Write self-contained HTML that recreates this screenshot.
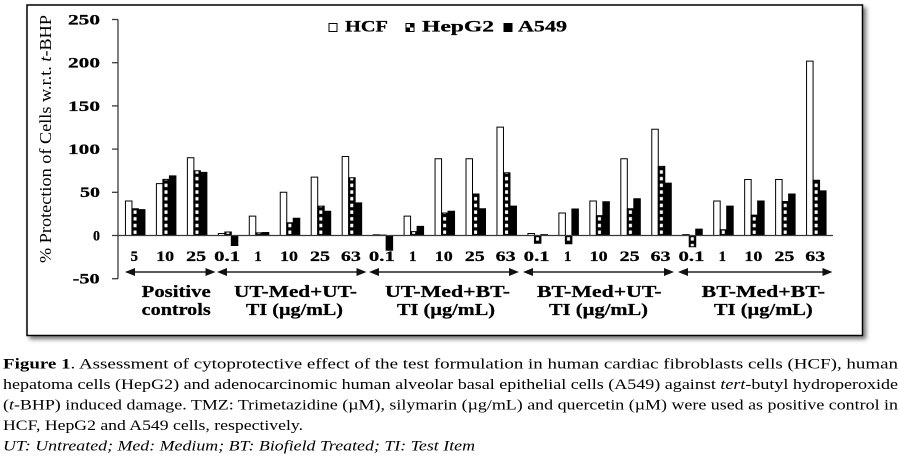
<!DOCTYPE html>
<html>
<head>
<meta charset="utf-8">
<style>
  html, body { margin: 0; padding: 0; background: #fff; }
  body { width: 899px; height: 457px; overflow: hidden; }
  svg { display: block; }
  text { font-family: "Liberation Serif", "DejaVu Serif", serif; }
</style>
</head>
<body>
<svg width="899" height="457" viewBox="0 0 899 457" xmlns="http://www.w3.org/2000/svg">
  <defs>
    <filter id="sh" x="-5%" y="-5%" width="112%" height="115%">
      <feDropShadow dx="3" dy="3" stdDeviation="2" flood-color="#555" flood-opacity="0.8"/>
    </filter>
    <pattern id="hp" patternUnits="userSpaceOnUse" x="-3.25" y="0" width="6.5" height="7.75">
      <rect x="0" y="0" width="6.5" height="7.75" fill="#000"/>
      <rect x="1.6" y="1.8" width="3" height="4" fill="#fff"/>
    </pattern>
    <pattern id="lp" patternUnits="userSpaceOnUse" x="406" y="23.5" width="8" height="8">
      <rect x="0" y="0" width="8" height="8" fill="#fff"/>
      <rect x="0" y="4" width="4" height="4" fill="#000"/>
      <rect x="4" y="0" width="4" height="4" fill="#000"/>
    </pattern>
  </defs>

  <rect x="0" y="0" width="899" height="457" fill="#fff"/>

  <!-- chart box -->
  <rect x="27" y="5" width="835.5" height="330.5" fill="#fff" stroke="#000" stroke-width="1.5" filter="url(#sh)"/>

  <!-- legend -->
  <g font-family="'Liberation Serif', serif" font-weight="bold" font-size="16" stroke="#000" stroke-width="0.25">
    <rect x="329" y="23.5" width="8" height="8" fill="#fff" stroke="#000" stroke-width="1"/>
    <text x="345" y="31.5" textLength="43" lengthAdjust="spacingAndGlyphs">HCF</text>
    <rect x="406" y="23.5" width="8" height="8" fill="url(#lp)" stroke="#000" stroke-width="1"/>
    <text x="422" y="31.5" textLength="72" lengthAdjust="spacingAndGlyphs">HepG2</text>
    <rect x="504" y="23.5" width="8" height="8" fill="#000" stroke="#000" stroke-width="1"/>
    <text x="518" y="31.5" textLength="49" lengthAdjust="spacingAndGlyphs">A549</text>
  </g>

  <!-- y axis label -->
  <text font-family="'Liberation Serif', serif" font-size="17" transform="translate(51,263) rotate(-90)" textLength="248" lengthAdjust="spacingAndGlyphs">% Protection of Cells w.r.t. <tspan font-style="italic">t</tspan>-BHP</text>

  <!-- y axis -->
  <g stroke="#3a3a3a" stroke-width="1.3">
    <line x1="118" y1="19.5" x2="118" y2="278.7"/>
    <line x1="112" y1="19.5" x2="118" y2="19.5"/>
    <line x1="112" y1="62.7" x2="118" y2="62.7"/>
    <line x1="112" y1="105.9" x2="118" y2="105.9"/>
    <line x1="112" y1="149.1" x2="118" y2="149.1"/>
    <line x1="112" y1="192.3" x2="118" y2="192.3"/>
    <line x1="112" y1="235.5" x2="118" y2="235.5"/>
    <line x1="112" y1="278.7" x2="118" y2="278.7"/>
  </g>
  <g font-family="'Liberation Serif', serif" font-weight="bold" font-size="15" stroke="#000" stroke-width="0.25">
    <text x="68" y="24.4" textLength="32" lengthAdjust="spacingAndGlyphs">250</text>
    <text x="68" y="67.6" textLength="32" lengthAdjust="spacingAndGlyphs">200</text>
    <text x="68" y="110.8" textLength="32" lengthAdjust="spacingAndGlyphs">150</text>
    <text x="68" y="154" textLength="32" lengthAdjust="spacingAndGlyphs">100</text>
    <text x="80" y="197.2" textLength="20" lengthAdjust="spacingAndGlyphs">50</text>
    <text x="93" y="240.4" textLength="7" lengthAdjust="spacingAndGlyphs">0</text>
    <text x="72.7" y="283.6" textLength="27" lengthAdjust="spacingAndGlyphs">-50</text>
  </g>

  <!-- bars -->
  <g transform="translate(0,235.5) scale(1,-0.864)" stroke="#000" stroke-width="1">
    <g transform="translate(135.2,0)">
      <rect x="-9.75" y="0" width="6.5" height="40" fill="#fff" vector-effect="non-scaling-stroke"/>
      <rect x="-3.25" y="0" width="6.5" height="31" fill="url(#hp)" vector-effect="non-scaling-stroke"/>
      <rect x="3.25" y="0" width="6.5" height="30" fill="#000" vector-effect="non-scaling-stroke"/>
    </g>
    <g transform="translate(166.16,0)">
      <rect x="-9.75" y="0" width="6.5" height="60" fill="#fff" vector-effect="non-scaling-stroke"/>
      <rect x="-3.25" y="0" width="6.5" height="65" fill="url(#hp)" vector-effect="non-scaling-stroke"/>
      <rect x="3.25" y="0" width="6.5" height="69" fill="#000" vector-effect="non-scaling-stroke"/>
    </g>
    <g transform="translate(197.12,0)">
      <rect x="-9.75" y="0" width="6.5" height="90" fill="#fff" vector-effect="non-scaling-stroke"/>
      <rect x="-3.25" y="0" width="6.5" height="75" fill="url(#hp)" vector-effect="non-scaling-stroke"/>
      <rect x="3.25" y="0" width="6.5" height="73" fill="#000" vector-effect="non-scaling-stroke"/>
    </g>
    <g transform="translate(228.08,0)">
      <rect x="-9.75" y="0" width="6.5" height="2.3" fill="#fff" vector-effect="non-scaling-stroke"/>
      <rect x="-3.25" y="0" width="6.5" height="4" fill="url(#hp)" vector-effect="non-scaling-stroke"/>
      <rect x="3.25" y="-11.6" width="6.5" height="11.6" fill="#000" vector-effect="non-scaling-stroke"/>
    </g>
    <g transform="translate(259.04,0)">
      <rect x="-9.75" y="0" width="6.5" height="22.4" fill="#fff" vector-effect="non-scaling-stroke"/>
      <rect x="-3.25" y="0" width="6.5" height="3" fill="url(#hp)" vector-effect="non-scaling-stroke"/>
      <rect x="3.25" y="0" width="6.5" height="3.5" fill="#000" vector-effect="non-scaling-stroke"/>
    </g>
    <g transform="translate(290,0)">
      <rect x="-9.75" y="0" width="6.5" height="50" fill="#fff" vector-effect="non-scaling-stroke"/>
      <rect x="-3.25" y="0" width="6.5" height="14.7" fill="url(#hp)" vector-effect="non-scaling-stroke"/>
      <rect x="3.25" y="0" width="6.5" height="20" fill="#000" vector-effect="non-scaling-stroke"/>
    </g>
    <g transform="translate(320.96,0)">
      <rect x="-9.75" y="0" width="6.5" height="67.6" fill="#fff" vector-effect="non-scaling-stroke"/>
      <rect x="-3.25" y="0" width="6.5" height="34" fill="url(#hp)" vector-effect="non-scaling-stroke"/>
      <rect x="3.25" y="0" width="6.5" height="28" fill="#000" vector-effect="non-scaling-stroke"/>
    </g>
    <g transform="translate(351.92,0)">
      <rect x="-9.75" y="0" width="6.5" height="91.5" fill="#fff" vector-effect="non-scaling-stroke"/>
      <rect x="-3.25" y="0" width="6.5" height="66.8" fill="url(#hp)" vector-effect="non-scaling-stroke"/>
      <rect x="3.25" y="0" width="6.5" height="37.8" fill="#000" vector-effect="non-scaling-stroke"/>
    </g>
    <g transform="translate(382.88,0)">
      <rect x="-9.75" y="0" width="6.5" height="0.8" fill="#fff" vector-effect="non-scaling-stroke"/>
      <rect x="-3.25" y="0" width="6.5" height="0.5" fill="url(#hp)" vector-effect="non-scaling-stroke"/>
      <rect x="3.25" y="-17" width="6.5" height="17" fill="#000" vector-effect="non-scaling-stroke"/>
    </g>
    <g transform="translate(413.84,0)">
      <rect x="-9.75" y="0" width="6.5" height="22.4" fill="#fff" vector-effect="non-scaling-stroke"/>
      <rect x="-3.25" y="0" width="6.5" height="4.5" fill="url(#hp)" vector-effect="non-scaling-stroke"/>
      <rect x="3.25" y="0" width="6.5" height="10.5" fill="#000" vector-effect="non-scaling-stroke"/>
    </g>
    <g transform="translate(444.8,0)">
      <rect x="-9.75" y="0" width="6.5" height="88.8" fill="#fff" vector-effect="non-scaling-stroke"/>
      <rect x="-3.25" y="0" width="6.5" height="26" fill="url(#hp)" vector-effect="non-scaling-stroke"/>
      <rect x="3.25" y="0" width="6.5" height="28" fill="#000" vector-effect="non-scaling-stroke"/>
    </g>
    <g transform="translate(475.76,0)">
      <rect x="-9.75" y="0" width="6.5" height="88.8" fill="#fff" vector-effect="non-scaling-stroke"/>
      <rect x="-3.25" y="0" width="6.5" height="48" fill="url(#hp)" vector-effect="non-scaling-stroke"/>
      <rect x="3.25" y="0" width="6.5" height="31" fill="#000" vector-effect="non-scaling-stroke"/>
    </g>
    <g transform="translate(506.72,0)">
      <rect x="-9.75" y="0" width="6.5" height="125.4" fill="#fff" vector-effect="non-scaling-stroke"/>
      <rect x="-3.25" y="0" width="6.5" height="72.6" fill="url(#hp)" vector-effect="non-scaling-stroke"/>
      <rect x="3.25" y="0" width="6.5" height="34" fill="#000" vector-effect="non-scaling-stroke"/>
    </g>
    <g transform="translate(537.68,0)">
      <rect x="-9.75" y="0" width="6.5" height="2.3" fill="#fff" vector-effect="non-scaling-stroke"/>
      <rect x="-3.25" y="-9" width="6.5" height="9" fill="url(#hp)" vector-effect="non-scaling-stroke"/>
      <rect x="3.25" y="0" width="6.5" height="1" fill="#000" vector-effect="non-scaling-stroke"/>
    </g>
    <g transform="translate(568.64,0)">
      <rect x="-9.75" y="0" width="6.5" height="26" fill="#fff" vector-effect="non-scaling-stroke"/>
      <rect x="-3.25" y="-9.5" width="6.5" height="9.5" fill="url(#hp)" vector-effect="non-scaling-stroke"/>
      <rect x="3.25" y="0" width="6.5" height="30.6" fill="#000" vector-effect="non-scaling-stroke"/>
    </g>
    <g transform="translate(599.6,0)">
      <rect x="-9.75" y="0" width="6.5" height="40" fill="#fff" vector-effect="non-scaling-stroke"/>
      <rect x="-3.25" y="0" width="6.5" height="23" fill="url(#hp)" vector-effect="non-scaling-stroke"/>
      <rect x="3.25" y="0" width="6.5" height="39" fill="#000" vector-effect="non-scaling-stroke"/>
    </g>
    <g transform="translate(630.56,0)">
      <rect x="-9.75" y="0" width="6.5" height="88.8" fill="#fff" vector-effect="non-scaling-stroke"/>
      <rect x="-3.25" y="0" width="6.5" height="31" fill="url(#hp)" vector-effect="non-scaling-stroke"/>
      <rect x="3.25" y="0" width="6.5" height="42.5" fill="#000" vector-effect="non-scaling-stroke"/>
    </g>
    <g transform="translate(661.52,0)">
      <rect x="-9.75" y="0" width="6.5" height="123" fill="#fff" vector-effect="non-scaling-stroke"/>
      <rect x="-3.25" y="0" width="6.5" height="80" fill="url(#hp)" vector-effect="non-scaling-stroke"/>
      <rect x="3.25" y="0" width="6.5" height="60.6" fill="#000" vector-effect="non-scaling-stroke"/>
    </g>
    <g transform="translate(692.48,0)">
      <rect x="-9.75" y="0" width="6.5" height="1" fill="#fff" vector-effect="non-scaling-stroke"/>
      <rect x="-3.25" y="-13" width="6.5" height="13" fill="url(#hp)" vector-effect="non-scaling-stroke"/>
      <rect x="3.25" y="0" width="6.5" height="7.4" fill="#000" vector-effect="non-scaling-stroke"/>
    </g>
    <g transform="translate(723.44,0)">
      <rect x="-9.75" y="0" width="6.5" height="40" fill="#fff" vector-effect="non-scaling-stroke"/>
      <rect x="-3.25" y="0" width="6.5" height="6.6" fill="url(#hp)" vector-effect="non-scaling-stroke"/>
      <rect x="3.25" y="0" width="6.5" height="34" fill="#000" vector-effect="non-scaling-stroke"/>
    </g>
    <g transform="translate(754.4,0)">
      <rect x="-9.75" y="0" width="6.5" height="64.8" fill="#fff" vector-effect="non-scaling-stroke"/>
      <rect x="-3.25" y="0" width="6.5" height="23.6" fill="url(#hp)" vector-effect="non-scaling-stroke"/>
      <rect x="3.25" y="0" width="6.5" height="40" fill="#000" vector-effect="non-scaling-stroke"/>
    </g>
    <g transform="translate(785.36,0)">
      <rect x="-9.75" y="0" width="6.5" height="64.8" fill="#fff" vector-effect="non-scaling-stroke"/>
      <rect x="-3.25" y="0" width="6.5" height="39.4" fill="url(#hp)" vector-effect="non-scaling-stroke"/>
      <rect x="3.25" y="0" width="6.5" height="48" fill="#000" vector-effect="non-scaling-stroke"/>
    </g>
    <g transform="translate(816.32,0)">
      <rect x="-9.75" y="0" width="6.5" height="201.8" fill="#fff" vector-effect="non-scaling-stroke"/>
      <rect x="-3.25" y="0" width="6.5" height="64" fill="url(#hp)" vector-effect="non-scaling-stroke"/>
      <rect x="3.25" y="0" width="6.5" height="51.7" fill="#000" vector-effect="non-scaling-stroke"/>
    </g>
  </g>

  <!-- zero baseline -->
  <line x1="118" y1="235.5" x2="833" y2="235.5" stroke="#3a3a3a" stroke-width="1.3"/>

  <!-- x category labels -->
  <g font-family="'Liberation Serif', serif" font-weight="bold" font-size="15" stroke="#000" stroke-width="0.25">
    <text x="134.2" y="261" text-anchor="middle">5</text>
    <text x="156.2" y="261" textLength="18" lengthAdjust="spacingAndGlyphs">10</text>
    <text x="186.1" y="261" textLength="20" lengthAdjust="spacingAndGlyphs">25</text>
    <text x="214.1" y="261" textLength="26" lengthAdjust="spacingAndGlyphs">0.1</text>
    <text x="258" y="261" text-anchor="middle">1</text>
    <text x="280" y="261" textLength="18" lengthAdjust="spacingAndGlyphs">10</text>
    <text x="310" y="261" textLength="20" lengthAdjust="spacingAndGlyphs">25</text>
    <text x="340.9" y="261" textLength="20" lengthAdjust="spacingAndGlyphs">63</text>
    <text x="368.9" y="261" textLength="26" lengthAdjust="spacingAndGlyphs">0.1</text>
    <text x="412.8" y="261" text-anchor="middle">1</text>
    <text x="434.8" y="261" textLength="18" lengthAdjust="spacingAndGlyphs">10</text>
    <text x="464.8" y="261" textLength="20" lengthAdjust="spacingAndGlyphs">25</text>
    <text x="495.7" y="261" textLength="20" lengthAdjust="spacingAndGlyphs">63</text>
    <text x="523.7" y="261" textLength="26" lengthAdjust="spacingAndGlyphs">0.1</text>
    <text x="567.6" y="261" text-anchor="middle">1</text>
    <text x="589.6" y="261" textLength="18" lengthAdjust="spacingAndGlyphs">10</text>
    <text x="619.6" y="261" textLength="20" lengthAdjust="spacingAndGlyphs">25</text>
    <text x="650.5" y="261" textLength="20" lengthAdjust="spacingAndGlyphs">63</text>
    <text x="678.5" y="261" textLength="26" lengthAdjust="spacingAndGlyphs">0.1</text>
    <text x="722.4" y="261" text-anchor="middle">1</text>
    <text x="744.4" y="261" textLength="18" lengthAdjust="spacingAndGlyphs">10</text>
    <text x="774.4" y="261" textLength="20" lengthAdjust="spacingAndGlyphs">25</text>
    <text x="805.3" y="261" textLength="20" lengthAdjust="spacingAndGlyphs">63</text>
  </g>

  <!-- arrows -->
  <g stroke="#222" stroke-width="1.5">
    <line x1="130" y1="272" x2="210.5" y2="272"/>
    <line x1="222" y1="272" x2="361.5" y2="272"/>
    <line x1="374" y1="272" x2="514" y2="272"/>
    <line x1="528" y1="272" x2="669" y2="272"/>
    <line x1="683" y1="272" x2="827.5" y2="272"/>
  </g>
  <g fill="#111">
    <polygon points="125,272 135,268 135,276"/>
    <polygon points="215.5,272 205.5,268 205.5,276"/>
    <polygon points="217,272 227,268 227,276"/>
    <polygon points="366.5,272 356.5,268 356.5,276"/>
    <polygon points="369,272 379,268 379,276"/>
    <polygon points="519,272 509,268 509,276"/>
    <polygon points="523,272 533,268 533,276"/>
    <polygon points="674,272 664,268 664,276"/>
    <polygon points="678,272 688,268 688,276"/>
    <polygon points="832.5,272 822.5,268 822.5,276"/>
  </g>

  <!-- group labels -->
  <g font-family="'Liberation Serif', serif" font-weight="bold" font-size="17" stroke="#000" stroke-width="0.25">
    <text x="141.7" y="297" textLength="69" lengthAdjust="spacingAndGlyphs">Positive</text>
    <text x="141.7" y="315" textLength="69" lengthAdjust="spacingAndGlyphs">controls</text>
    <text x="234" y="297" textLength="123" lengthAdjust="spacingAndGlyphs">UT-Med+UT-</text>
    <text x="246" y="315" textLength="97" lengthAdjust="spacingAndGlyphs">TI (µg/mL)</text>
    <text x="385" y="297" textLength="125" lengthAdjust="spacingAndGlyphs">UT-Med+BT-</text>
    <text x="397" y="315" textLength="98" lengthAdjust="spacingAndGlyphs">TI (µg/mL)</text>
    <text x="537" y="297" textLength="124.7" lengthAdjust="spacingAndGlyphs">BT-Med+UT-</text>
    <text x="549" y="315" textLength="99" lengthAdjust="spacingAndGlyphs">TI (µg/mL)</text>
    <text x="701.7" y="297" textLength="123.3" lengthAdjust="spacingAndGlyphs">BT-Med+BT-</text>
    <text x="714" y="315" textLength="98.7" lengthAdjust="spacingAndGlyphs">TI (µg/mL)</text>
  </g>

  <!-- caption -->
  <g font-family="'Liberation Serif', serif" font-size="15" fill="#000">
    <text x="3" y="368.5" textLength="895" lengthAdjust="spacingAndGlyphs"><tspan font-weight="bold">Figure 1</tspan>. Assessment of cytoprotective effect of the test formulation in human cardiac fibroblasts cells (HCF), human</text>
    <text x="3" y="389" textLength="895" lengthAdjust="spacingAndGlyphs">hepatoma cells (HepG2) and adenocarcinomic human alveolar basal epithelial cells (A549) against <tspan font-style="italic">tert</tspan>-butyl hydroperoxide</text>
    <text x="3" y="409.5" textLength="895" lengthAdjust="spacingAndGlyphs">(<tspan font-style="italic">t</tspan>-BHP) induced damage. TMZ: Trimetazidine (µM), silymarin (µg/mL) and quercetin (µM) were used as positive control in</text>
    <text x="3" y="430" textLength="300" lengthAdjust="spacingAndGlyphs">HCF, HepG2 and A549 cells, respectively.</text>
    <text x="3" y="450.5" font-style="italic" textLength="472" lengthAdjust="spacingAndGlyphs">UT: Untreated; Med: Medium; BT: Biofield Treated; TI: Test Item</text>
  </g>
</svg>
</body>
</html>
